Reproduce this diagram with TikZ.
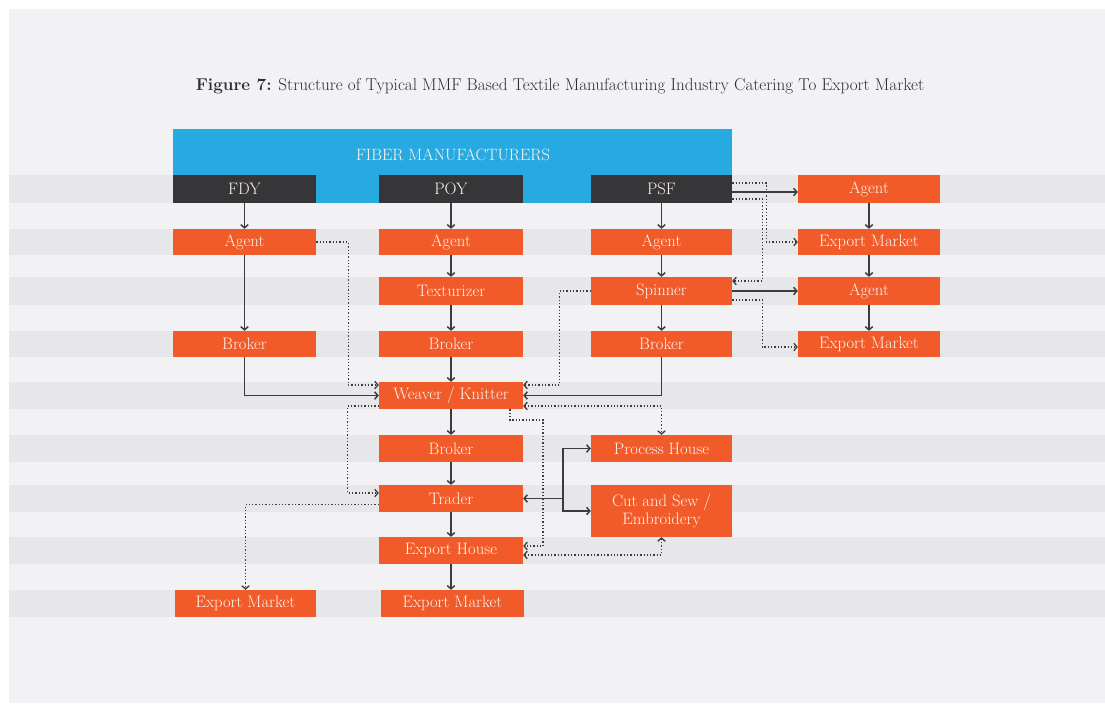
\documentclass[tikz,border=0pt]{standalone}
\usetikzlibrary{arrows.meta,calc}
\definecolor{panel}{HTML}{F2F2F4}
\definecolor{band}{HTML}{E7E7E9}
\definecolor{orng}{HTML}{F15A29}
\definecolor{fblue}{HTML}{27AAE1}
\definecolor{darkbox}{HTML}{363638}
\definecolor{lineclr}{HTML}{3C3C3E}
\definecolor{btext}{HTML}{FFF3EC}
\definecolor{titleclr}{HTML}{2E2E30}
\begin{document}
\begin{tikzpicture}[x=1pt,y=-1pt,
  box/.style={fill=orng, text=btext, inner sep=0pt, minimum height=27pt, align=center, font=\fontsize{16.6}{18}\selectfont},
  dbox/.style={box, fill=darkbox},
  sarr/.style={draw=lineclr, line width=1.5pt, -{Straight Barb[length=3.2pt,width=7.5pt]}},
  darr/.style={draw=lineclr, line width=1.3pt, dash pattern=on 1.3pt off 2pt, -{Straight Barb[length=3.2pt,width=7.5pt]}},
  dboth/.style={darr, {Straight Barb[length=3.2pt,width=7.5pt]}-{Straight Barb[length=3.2pt,width=7.5pt]}}
]
\useasboundingbox (0,0) rectangle (1105,706);
\fill[white] (0,0) rectangle (1105,706);
\fill[panel] (9,9) rectangle (1105,703);
% bands
\foreach \a/\b in {175/203,229/255,277/305,331/357,382/409,435/462,485/512,537/564,590/617}
  \fill[band] (9,\a) rectangle (1105,\b);
% title
\node[text=titleclr, inner sep=0pt, font=\fontsize{17.1}{20}\selectfont] (title) at (560,86) {\textbf{Figure 7:} Structure of Typical MMF Based Textile Manufacturing Industry Catering To Export Market};
% blue box
\fill[fblue] (173,129) rectangle (732,203);
\node[text=btext, inner sep=0pt, font=\fontsize{16.4}{18}\selectfont] (fm) at (453,155) {FIBER MANUFACTURERS};
% row 1
\node[dbox, minimum width=143pt, minimum height=28pt] (fdy) at (244.5,189) {FDY};
\node[dbox, minimum width=144pt, minimum height=28pt] (poy) at (451,189) {POY};
\node[dbox, minimum width=141pt, minimum height=28pt] (psf) at (661.5,189) {PSF};
\node[box, minimum width=142pt, minimum height=28pt] (agr1) at (869,189) {Agent};
% row 2
\node[box, minimum width=143pt, minimum height=26pt] (ag1) at (244.5,242) {Agent};
\node[box, minimum width=144pt, minimum height=26pt] (ag2) at (451,242) {Agent};
\node[box, minimum width=141pt, minimum height=26pt] (ag3) at (661.5,242) {Agent};
\node[box, minimum width=142pt, minimum height=26pt] (emr2) at (869,242) {Export Market};
% row 3
\node[box, minimum width=144pt, minimum height=28pt] (tex) at (451,291) {Texturizer};
\node[box, minimum width=141pt, minimum height=28pt] (spin) at (661.5,291) {Spinner};
\node[box, minimum width=142pt, minimum height=28pt] (agr3) at (869,291) {Agent};
% row 4
\node[box, minimum width=143pt, minimum height=26pt] (brk1) at (244.5,344) {Broker};
\node[box, minimum width=144pt, minimum height=26pt] (brk2) at (451,344) {Broker};
\node[box, minimum width=141pt, minimum height=26pt] (brk3) at (661.5,344) {Broker};
\node[box, minimum width=142pt, minimum height=26pt] (emr4) at (869,344) {Export Market};
% row 5
\node[box, minimum width=144pt] (weav) at (451,395.5) {Weaver / Knitter};
% row 6
\node[box, minimum width=144pt] (brk4) at (451,448.5) {Broker};
\node[box, minimum width=141pt] (proc) at (661.5,448.5) {Process House};
% row 7
\node[box, minimum width=144pt] (trad) at (451,498.5) {Trader};
\node[box, minimum width=141pt, minimum height=52pt] (cut) at (661.5,511) {Cut and Sew /\\Embroidery};
% row 8
\node[box, minimum width=144pt] (exph) at (451,550.5) {Export House};
% row 9
\node[box, minimum width=141pt] (eml) at (245.5,603.5) {Export Market};
\node[box, minimum width=143pt] (emc) at (452.5,603.5) {Export Market};
% vertical solid arrows
\draw[sarr] (fdy.south) -- (ag1.north);
\draw[sarr] (ag1.south) -- (brk1.north);
\draw[sarr] (poy.south) -- (ag2.north);
\draw[sarr] (ag2.south) -- (tex.north);
\draw[sarr] (tex.south) -- (brk2.north);
\draw[sarr] (brk2.south) -- (weav.north);
\draw[sarr] (weav.south) -- (brk4.north);
\draw[sarr] (brk4.south) -- (trad.north);
\draw[sarr] (trad.south) -- (exph.north);
\draw[sarr] (exph.south) -- (exph.south |- emc.north);
\draw[sarr] (psf.south) -- (ag3.north);
\draw[sarr] (ag3.south) -- (spin.north);
\draw[sarr] (spin.south) -- (brk3.north);
\draw[sarr] (agr1.south) -- (emr2.north);
\draw[sarr] (emr2.south) -- (agr3.north);
\draw[sarr] (agr3.south) -- (emr4.north);
% horizontal solid arrows
\draw[sarr] ([yshift=-3pt]psf.east) -- ([yshift=-3pt]agr1.west);
\draw[sarr] (spin.east) -- (agr3.west);
\draw[sarr] (brk1.south) |- (weav.west);
\draw[sarr] (brk3.south) |- (weav.east);
\coordinate (j) at (563,498.5);
\draw[sarr] (j) -- (trad.east);
\draw[sarr] (j) |- (proc.west);
\draw[sarr] (j) |- (cut.west);
% dotted connectors
\draw[darr] ([yshift=6pt]psf.east) -- ++(34,0) |- (emr2.west);
\draw[darr] ([yshift=-10pt]psf.east) -- ++(30,0) |- ([yshift=10pt]spin.east);
\draw[darr] ([yshift=-9pt]spin.east) -- ++(30,0) |- ([yshift=-3pt]emr4.west);
\draw[darr] (ag1.east) -- ++(32,0) |- ([yshift=10.5pt]weav.west);
\draw[darr] (spin.west) -- ++(-31,0) |- ([yshift=10.5pt]weav.east);
\draw[dboth] ([yshift=-10.5pt]weav.east) -| (proc.north);
\draw[darr] ([yshift=-10.5pt]weav.west) -- ++(-31,0) |- ([yshift=5.5pt]trad.west);
\coordinate (c1) at (543,420);
\draw[darr] ([xshift=59pt]weav.south) |- (c1) |- ([yshift=4.5pt]exph.east);
\draw[dboth] ([yshift=-4.5pt]exph.east) -| (cut.south);
\draw[darr] ([yshift=-6pt]trad.west) -| (eml.north);
\end{tikzpicture}
\end{document}
